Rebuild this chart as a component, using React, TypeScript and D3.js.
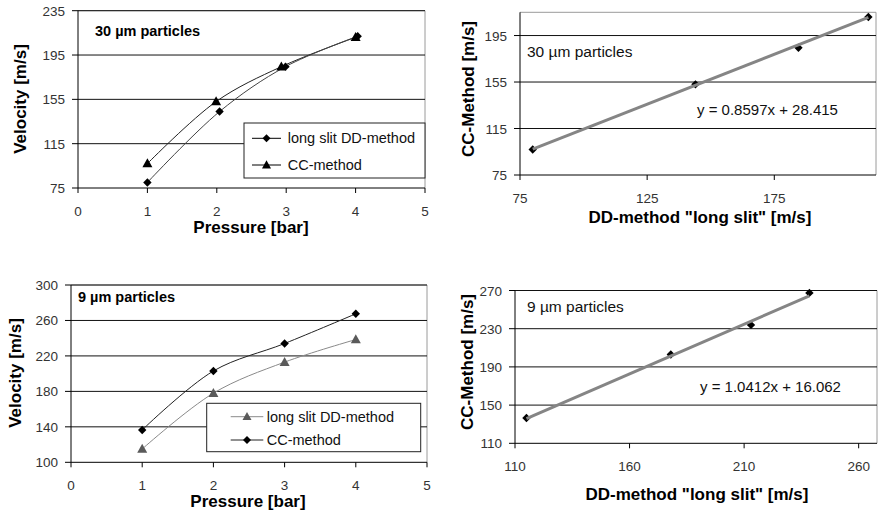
import React from 'react';
import * as d3 from 'd3';

// ---- data ----
const dd30Pressure = [1, 2.04, 2.99, 4.03];
const cc30Pressure = [1, 1.99, 2.93, 4.0];
const dd30 = [80, 144, 184.5, 212];
const cc30 = [97, 153, 184.5, 211];
const pressure9 = [1, 2, 3, 4];
const dd9 = [115, 178, 213, 238.5];
const cc9 = [136.5, 203, 234, 267.5];

const pressureTicks = [0, 1, 2, 3, 4, 5];
const vel30Ticks = [75, 115, 155, 195, 235];
const vel9Ticks = [100, 140, 180, 220, 260, 300];
const corr30XTicks = [75, 125, 175];
const corr30YTicks = [75, 115, 155, 195];
const corr9XTicks = [110, 160, 210, 260];
const corr9YTicks = [110, 150, 190, 230, 270];

const fit30 = { slope: 0.8597, intercept: 28.415, label: 'y = 0.8597x + 28.415' };
const fit9 = { slope: 1.0412, intercept: 16.062, label: 'y = 1.0412x + 16.062' };

const FONT = '"Liberation Sans", Arial, sans-serif';

const diamond = (r: number) => `M0,${-r}L${r},0L0,${r}L${-r},0Z`;
const triangle = (r: number) => `M0,${-r * 1.05}L${r},${r * 0.75}L${-r},${r * 0.75}Z`;

type FrameProps = {
  x: d3.ScaleLinear<number, number>;
  y: d3.ScaleLinear<number, number>;
  xTicks: number[];
  yTicks: number[];
  yTitle: string;
  yTitleX: number;
  xTitle: string;
  xTitleY: number;
  xTitleX: number;
  yTitleY: number;
};

function Frame({ x, y, xTicks, yTicks, yTitle, yTitleX, xTitle, xTitleY, xTitleX, yTitleY }: FrameProps) {
  const [x0, x1] = x.range();
  const [y0, y1] = y.range(); // y0 bottom, y1 top
  return (
    <g>
      {/* border top/right gray */}
      <line x1={x0} x2={x1} y1={y1} y2={y1} stroke="#9a9a9a" strokeWidth={1} />
      <line x1={x1} x2={x1} y1={y1} y2={y0} stroke="#9a9a9a" strokeWidth={1} />
      {/* gridlines */}
      {yTicks.filter((t) => Math.abs(y(t) - y0) > 1).map((t) => (
        <line key={'g' + t} x1={x0} x2={x1} y1={y(t)} y2={y(t)} stroke="#111" strokeWidth={1} />
      ))}
      {/* axes */}
      <line x1={x0} x2={x0} y1={y1} y2={y0} stroke="#000" strokeWidth={1} />
      <line x1={x0} x2={x1} y1={y0} y2={y0} stroke="#000" strokeWidth={1} />
      {yTicks.map((t) => (
        <g key={'yt' + t}>
          <line x1={x0 - 6} x2={x0} y1={y(t)} y2={y(t)} stroke="#000" />
          <text x={x0 - 13} y={y(t) + 5} textAnchor="end" fontSize={13.5} fill="#333" fontFamily={FONT}>
            {t}
          </text>
        </g>
      ))}
      {xTicks.map((t) => (
        <g key={'xt' + t}>
          <line x1={x(t)} x2={x(t)} y1={y0} y2={y0 + 5} stroke="#000" />
          <text x={x(t)} y={y0 + 28} textAnchor="middle" fontSize={13.5} fill="#333" fontFamily={FONT}>
            {t}
          </text>
        </g>
      ))}
      <text
        transform={`translate(${yTitleX},${yTitleY}) rotate(-90)`}
        textAnchor="middle"
        dominantBaseline="central"
        fontSize={17}
        fontWeight="bold"
        fontFamily={FONT}
        fill="#000"
      >
        {yTitle}
      </text>
      <text x={xTitleX} y={xTitleY} textAnchor="middle" fontSize={17} fontWeight="bold" fontFamily={FONT} fill="#000">
        {xTitle}
      </text>
    </g>
  );
}

const smooth = d3.line<[number, number]>().curve(d3.curveCatmullRom.alpha(0.5));

function Legend({ box, items }: { box: { x: number; y: number; w: number; h: number; lx0: number; lx1: number; tx: number; ys: number[] }; items: { label: string; marker: string; color: string; line: string }[] }) {
  return (
    <g>
      <rect x={box.x} y={box.y} width={box.w} height={box.h} fill="#fff" stroke="#222" strokeWidth={1} />
      {items.map((it, i) => (
        <g key={i}>
          <line x1={box.lx0} x2={box.lx1} y1={box.ys[i]} y2={box.ys[i]} stroke={it.line} strokeWidth={1} />
          <path d={it.marker} transform={`translate(${(box.lx0 + box.lx1) / 2},${box.ys[i]})`} fill={it.color} />
          <text x={box.tx} y={box.ys[i] + 5} fontSize={14.5} fontFamily={FONT} fill="#111">
            {it.label}
          </text>
        </g>
      ))}
    </g>
  );
}

export default function App() {
  // Panel 1
  const x1 = d3.scaleLinear().domain([0, 5]).range([78, 425]);
  const y1 = d3.scaleLinear().domain([75, 235]).range([188, 10.7]);
  // Panel 2
  const x2 = d3.scaleLinear().domain([75, 215]).range([520, 876]);
  const y2 = d3.scaleLinear().domain([75, 215]).range([175, 12.3]);
  // Panel 3
  const x3 = d3.scaleLinear().domain([0, 5]).range([71, 427]);
  const y3 = d3.scaleLinear().domain([100, 300]).range([462.3, 285]);
  // Panel 4
  const x4 = d3.scaleLinear().domain([110, 268]).range([515, 877]);
  const y4 = d3.scaleLinear().domain([110, 270]).range([443.3, 290.5]);

  const p1dd = dd30Pressure.map((p, i) => [x1(p), y1(dd30[i])] as [number, number]);
  const p1cc = cc30Pressure.map((p, i) => [x1(p), y1(cc30[i])] as [number, number]);
  const p3dd = pressure9.map((p, i) => [x3(p), y3(dd9[i])] as [number, number]);
  const p3cc = pressure9.map((p, i) => [x3(p), y3(cc9[i])] as [number, number]);

  const ext30 = d3.extent(dd30) as [number, number];
  const ext9 = d3.extent(dd9) as [number, number];

  return (
    <svg width={878} height={513} style={{ position: 'absolute', left: 0, top: 0, background: '#fff' }}>
      <rect width={878} height={513} fill="#fff" />

      {/* Panel 1 */}
      <Frame x={x1} y={y1} xTicks={pressureTicks} yTicks={vel30Ticks} yTitle="Velocity [m/s]" yTitleX={20} yTitleY={99}
        xTitle="Pressure [bar]" xTitleX={251} xTitleY={233} />
      <text x={95} y={36} fontSize={14.5} fontWeight="bold" fontFamily={FONT}>30 µm particles</text>
      <path d={smooth(p1cc) || ''} fill="none" stroke="#222" strokeWidth={1} />
      <path d={smooth(p1dd) || ''} fill="none" stroke="#444" strokeWidth={1} />
      {p1cc.map((p, i) => <path key={'t' + i} d={triangle(5)} transform={`translate(${p[0]},${p[1]})`} fill="#000" />)}
      {p1dd.map((p, i) => <path key={'d' + i} d={diamond(4.2)} transform={`translate(${p[0]},${p[1]})`} fill="#000" />)}
      <Legend
        box={{ x: 244, y: 123, w: 181, h: 55, lx0: 252, lx1: 281, tx: 287.7, ys: [138.3, 165] }}
        items={[
          { label: 'long slit DD-method', marker: diamond(4), color: '#000', line: '#000' },
          { label: 'CC-method', marker: triangle(4.5), color: '#000', line: '#000' },
        ]}
      />

      {/* Panel 2 */}
      <Frame x={x2} y={y2} xTicks={corr30XTicks} yTicks={corr30YTicks} yTitle="CC-Method [m/s]" yTitleX={468} yTitleY={89}
        xTitle={'DD-method "long slit" [m/s]'} xTitleX={700} xTitleY={223} />
      <text x={527} y={57} fontSize={15.5} fontFamily={FONT} fill="#111">30 µm particles</text>
      {dd30.map((v, i) => <path key={'s' + i} d={diamond(4.2)} transform={`translate(${x2(v)},${y2(cc30[i])})`} fill="#000" />)}
      <line x1={x2(ext30[0])} x2={x2(ext30[1])} y1={y2(fit30.slope * ext30[0] + fit30.intercept)} y2={y2(fit30.slope * ext30[1] + fit30.intercept)}
        stroke="#858585" strokeWidth={3} />
      <text x={697} y={115} fontSize={15} fontFamily={FONT} fill="#111">{fit30.label}</text>

      {/* Panel 3 */}
      <Frame x={x3} y={y3} xTicks={pressureTicks} yTicks={vel9Ticks} yTitle="Velocity [m/s]" yTitleX={15} yTitleY={373}
        xTitle="Pressure [bar]" xTitleX={248} xTitleY={507} />
      <text x={78} y={302} fontSize={14.5} fontWeight="bold" fontFamily={FONT}>9 µm particles</text>
      <path d={smooth(p3dd) || ''} fill="none" stroke="#8a8a8a" strokeWidth={1} />
      <path d={smooth(p3cc) || ''} fill="none" stroke="#222" strokeWidth={1} />
      {p3dd.map((p, i) => <path key={'t' + i} d={triangle(5)} transform={`translate(${p[0]},${p[1]})`} fill="#5a5a5a" />)}
      {p3cc.map((p, i) => <path key={'d' + i} d={diamond(4.2)} transform={`translate(${p[0]},${p[1]})`} fill="#000" />)}
      <Legend
        box={{ x: 206.7, y: 403.3, w: 214, h: 48.4, lx0: 230.7, lx1: 263.3, tx: 266.7, ys: [416.7, 440] }}
        items={[
          { label: 'long slit DD-method', marker: triangle(4.5), color: '#5a5a5a', line: '#8a8a8a' },
          { label: 'CC-method', marker: diamond(4), color: '#000', line: '#222' },
        ]}
      />

      {/* Panel 4 */}
      <Frame x={x4} y={y4} xTicks={corr9XTicks} yTicks={corr9YTicks} yTitle="CC-Method [m/s]" yTitleX={467} yTitleY={362}
        xTitle={'DD-method "long slit" [m/s]'} xTitleX={697} xTitleY={500} />
      <text x={527} y={312} fontSize={15.5} fontFamily={FONT} fill="#111">9 µm particles</text>
      {dd9.map((v, i) => <path key={'s' + i} d={diamond(4.2)} transform={`translate(${x4(v)},${y4(cc9[i])})`} fill="#000" />)}
      <line x1={x4(ext9[0])} x2={x4(ext9[1])} y1={y4(fit9.slope * ext9[0] + fit9.intercept)} y2={y4(fit9.slope * ext9[1] + fit9.intercept)}
        stroke="#858585" strokeWidth={3} />
      <text x={700} y={392} fontSize={15} fontFamily={FONT} fill="#111">{fit9.label}</text>
    </svg>
  );
}
